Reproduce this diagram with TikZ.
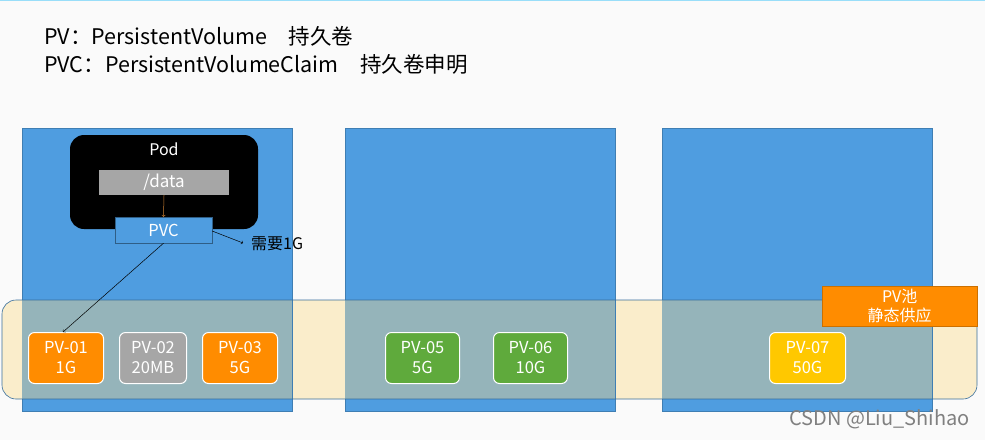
\documentclass[tikz,border=0pt]{standalone}
\usepackage{fontspec}
\setmainfont{Noto Sans CJK SC}
\begin{document}
\begin{tikzpicture}[x=1pt,y=-1pt,
  blue/.style={fill=cblue,draw=cblue!80!black,line width=0.4pt},
  pv/.style={draw=white,line width=1pt,rounded corners=6pt,text=white,font=\fontsize{16.5}{20}\selectfont,align=center,anchor=north west,inner sep=0pt},
  lbl/.style={font=\fontsize{21.5}{24}\selectfont,anchor=west,inner sep=0pt}]
\definecolor{cblue}{HTML}{4F9DE0}
\definecolor{cyel}{HTML}{FAEDCB}
\definecolor{cmix}{HTML}{95B4BA}
\definecolor{corg}{HTML}{FF8C00}
\definecolor{cgrn}{HTML}{5FAA3C}
\definecolor{cgold}{HTML}{FFC800}
\definecolor{cgray}{HTML}{A6A6A6}
\useasboundingbox (0,0) rectangle (985,440);
\fill[white!96!gray] (0,0) rectangle (985,440);
\draw[cyan!40,line width=1pt] (0,0.5) -- (985,0.5);
\node[lbl] (t1) at (44,36) {PV：PersistentVolume\quad 持久卷};
\node[lbl] (t2) at (44,64) {PVC：PersistentVolumeClaim\quad 持久卷申明};
% pool band
\fill[cyel,rounded corners=14pt] (2,300) rectangle (977,399);
% blue boxes
\draw[blue] (22,128) rectangle (292,411);
\draw[blue] (345,128) rectangle (615,411);
\draw[blue] (662,128) rectangle (932,411);
\fill[cmix] (22,300) rectangle (292,399);
\fill[cmix] (345,300) rectangle (615,399);
\fill[cmix] (662,300) rectangle (932,399);
\draw[cblue!70!black,line width=0.6pt,rounded corners=14pt] (2,300) rectangle (977,399);
% pod
\fill[black,rounded corners=14pt] (70,135) rectangle (258,229);
\node[text=white,font=\fontsize{16}{18}\selectfont] (pod) at (164,149) {Pod};
\node[fill=cgray,minimum width=130pt,minimum height=25pt,inner sep=0pt,text=white,font=\fontsize{17}{19}\selectfont] (data) at (164,182.5) {/data};
\node[fill=cblue,draw=cblue!60!black,line width=0.4pt,minimum width=97pt,minimum height=26pt,inner sep=0pt,text=white,font=\fontsize{16.5}{18}\selectfont] (pvc) at (163.5,230) {PVC};
\draw[->,brown!80!orange,line width=0.5pt] (data.south) -- (pvc.north);
\node[font=\fontsize{16}{18}\selectfont,anchor=west,inner sep=0pt] (need) at (251,244) {需要1G};
\coordinate (needend) at (243,243);
\draw[->,line width=0.5pt] (pvc.east) ++(0,1) -- (needend);
% PVs
\node[pv,fill=corg,minimum width=75pt,minimum height=51pt] (pv1) at (28,332) {PV-01\\1G};
\node[pv,fill=cgray,minimum width=67pt,minimum height=51pt] (pv2) at (119,332) {PV-02\\20MB};
\node[pv,fill=corg,minimum width=75pt,minimum height=51pt] (pv3) at (202,332) {PV-03\\5G};
\node[pv,fill=cgrn,minimum width=74pt,minimum height=51pt] (pv5) at (385,332) {PV-05\\5G};
\node[pv,fill=cgrn,minimum width=74pt,minimum height=51pt] (pv6) at (493,332) {PV-06\\10G};
\node[pv,fill=cgold,minimum width=76pt,minimum height=51pt] (pv7) at (769,332) {PV-07\\50G};
\draw[->,line width=0.5pt] (pvc.south) -- ([xshift=-3pt]pv1.north);
% pool label
\node[fill=corg,draw=corg!80!black,line width=0.4pt,minimum width=155pt,minimum height=40pt,inner sep=0pt,text=white,align=center,font=\fontsize{16}{19}\selectfont,anchor=north west] (pool) at (822,286) {PV池\\静态供应};
\node[text=gray,font=\fontsize{20}{22}\selectfont,anchor=east,inner sep=0pt] (wm) at (970,419) {CSDN @Liu\_Shihao};
\end{tikzpicture}
\end{document}
